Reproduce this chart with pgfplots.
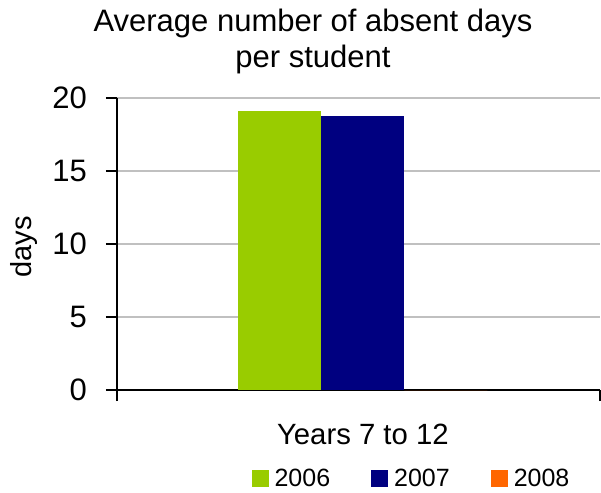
\documentclass[border=0pt]{standalone}
\usepackage{fontspec}
\setmainfont{Liberation Sans}
\usepackage{pgfplots}
\pgfplotsset{compat=1.18}
\definecolor{g06}{RGB}{153,204,0}
\definecolor{n07}{RGB}{0,0,128}
\definecolor{o08}{RGB}{255,102,0}
\definecolor{gridc}{RGB}{192,192,192}
\pgfplotsset{sqleg/.style={legend image code/.code={\fill[##1] (0bp,-8.5bp) rectangle (17bp,8.5bp); \path (21bp,0bp);}}}
\begin{document}
\begin{tikzpicture}
\begin{axis}[
  at={(0,0)}, anchor=south west,
  scale only axis, width=483bp, height=292bp,
  xmin=-0.5, xmax=0.5, ymin=0, ymax=20,
  ybar=0pt, bar width=83bp,
  axis x line=bottom, axis y line=left,
  axis line style={-, line width=1.2bp, black},
  ytick={0,5,10,15,20}, xtick={-0.5,0.5}, xticklabels={},
  tick align=outside, major tick length=11bp,
  tick style={black, line width=1.2bp},
  ymajorgrids, grid style={gridc, line width=1.5bp},
  /pgf/number format/assume math mode=true,
  yticklabel style={font=\fontsize{31bp}{36bp}\selectfont, anchor=east, inner sep=0pt, xshift=-19bp},
  xlabel={Years 7 to 12},
  xlabel style={at={(axis description cs:0.509,-0.1507)}, anchor=center, font=\fontsize{29.3bp}{35bp}\selectfont},
  ylabel={days},
  ylabel style={at={(axis description cs:-0.1925,0.49)}, anchor=center, font=\fontsize{29bp}{35bp}\selectfont},
  title={Average number of absent days\\per student},
  title style={at={(axis description cs:0.4058,1.1747)}, anchor=center, align=center, font=\fontsize{31bp}{36bp}\selectfont},
  legend columns=3,
  legend style={at={(axis description cs:0.6097,-0.3027)}, anchor=center, draw=none, fill=none,
    font=\fontsize{25bp}{30bp}\selectfont, inner sep=0pt,
    /tikz/every even column/.append style={column sep=39bp}},
]
\addplot[fill=g06, draw=none, sqleg] coordinates {(0.0093,19.1)};
\addplot[fill=n07, draw=none, sqleg] coordinates {(0.0093,18.8)};
\addplot[fill=o08, draw=none, sqleg] coordinates {(0.0093,0)};
\legend{2006,2007,2008}
\end{axis}
\pgfresetboundingbox
\path (-117bp,-103bp) rectangle (484bp,390bp);
\end{tikzpicture}
\end{document}
